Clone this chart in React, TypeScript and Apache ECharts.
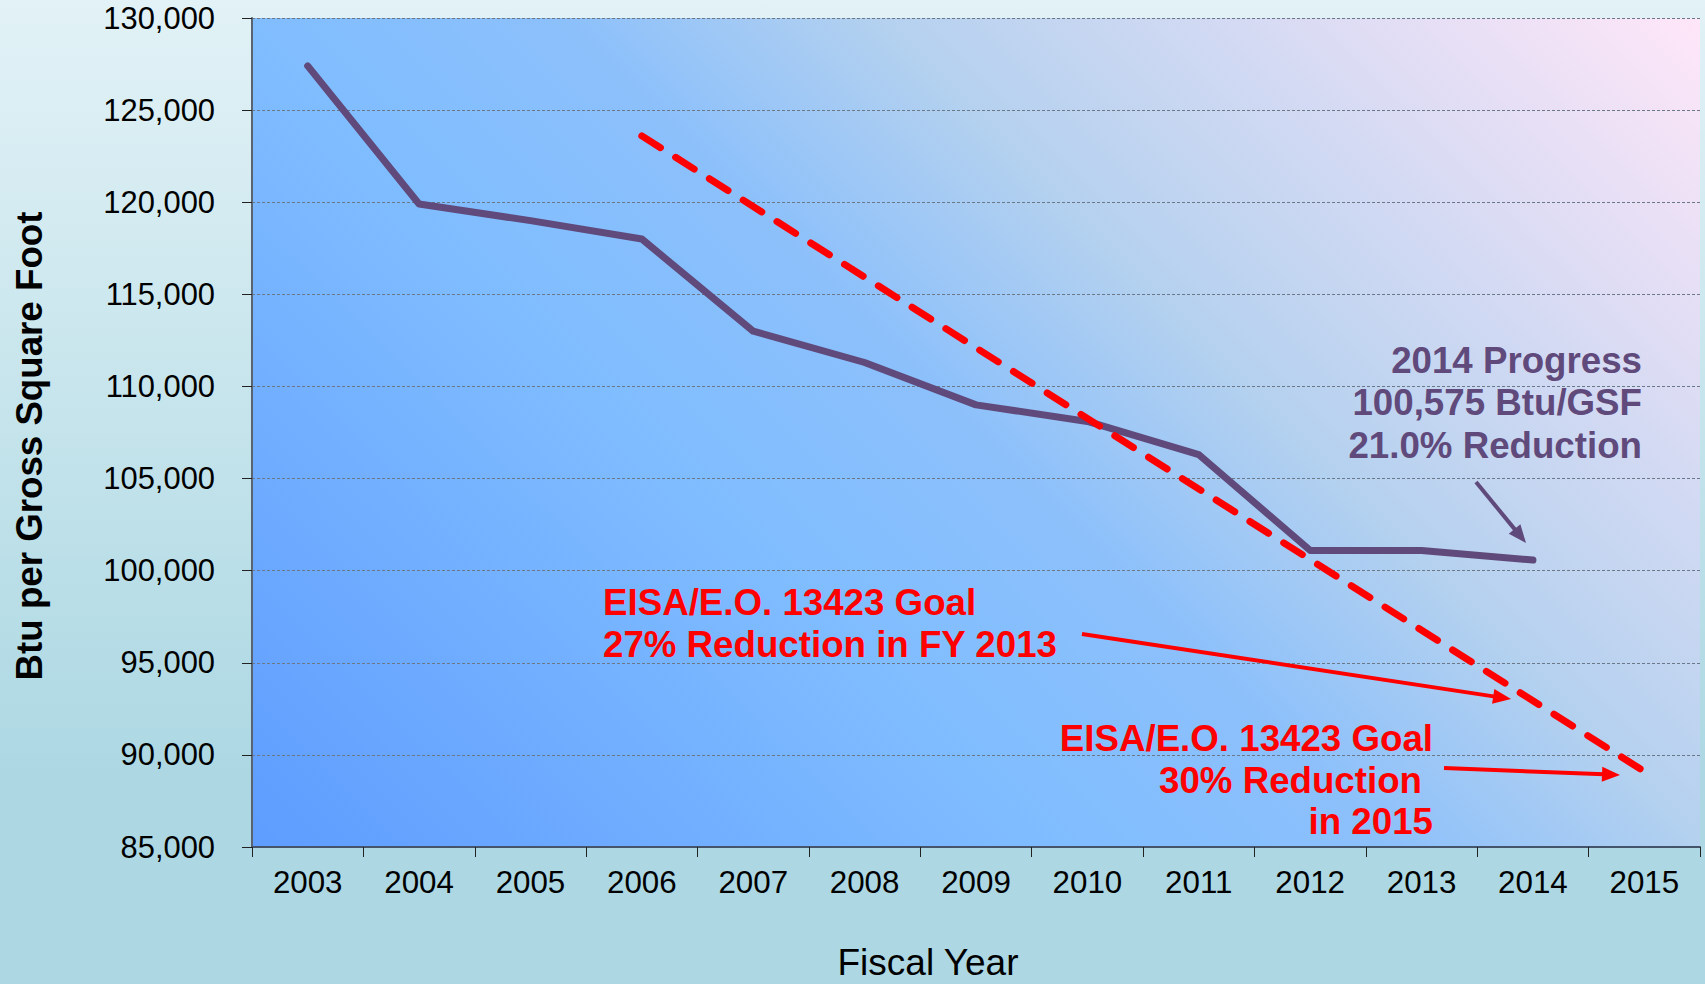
import React, { useEffect, useRef } from "react";
import * as echarts from "echarts";

const years = ["2003", "2004", "2005", "2006", "2007", "2008", "2009", "2010", "2011", "2012", "2013", "2014", "2015"];
const actualBtu = [127400, 119900, 119000, 118000, 113000, 111300, 109000, 108100, 106300, 101100, 101100, 100575, null];
const goalBtu = [null, null, null, 123600, null, null, null, null, null, null, null, null, 89100];
const yMin = 85000;
const yMax = 130000;
const yStep = 5000;

const progressLines = ["2014 Progress", "100,575 Btu/GSF", "21.0% Reduction"];
const goal2013Lines = ["EISA/E.O. 13423 Goal", "27% Reduction in FY 2013"];
const goal2015Lines = ["EISA/E.O. 13423 Goal", "30% Reduction", "in 2015"];

const FONT = "'Liberation Sans', Arial, Helvetica, sans-serif";
const PURPLE = "#5F4A7B";
const RED = "#FF0000";

function arrow(x1: number, y1: number, x2: number, y2: number, color: string, w: number) {
  const dx = x2 - x1;
  const dy = y2 - y1;
  const len = Math.sqrt(dx * dx + dy * dy);
  const ux = dx / len;
  const uy = dy / len;
  const hl = 18;
  const hw = 7.5;
  const bx = x2 - ux * hl;
  const by = y2 - uy * hl;
  return [
    {
      type: "line",
      z: 100,
      shape: { x1, y1, x2: bx + ux * 2, y2: by + uy * 2 },
      style: { stroke: color, lineWidth: w },
    },
    {
      type: "polygon",
      z: 100,
      shape: {
        points: [
          [x2, y2],
          [bx - uy * hw, by + ux * hw],
          [bx + uy * hw, by - ux * hw],
        ],
      },
      style: { fill: color },
    },
  ];
}

function textLines(lines: string[], xs: number[], ys: number[], align: string, color: string) {
  return lines.map((t, i) => ({
    type: "text",
    z: 100,
    x: xs[i],
    y: ys[i],
    style: {
      text: t,
      fill: color,
      font: `bold 36.7px ${FONT}`,
      align,
      verticalAlign: "middle",
    },
  }));
}

export default function App() {
  const ref = useRef<HTMLDivElement>(null);
  useEffect(() => {
    document.body.style.margin = "0";
    const chart = echarts.init(ref.current!, null, { renderer: "svg" });
    const option: any = {
      animation: false,
      backgroundColor: "transparent",
      grid: {
        left: 252,
        right: 5,
        top: 18,
        bottom: 137,
        show: true,
        borderWidth: 0,
        backgroundColor: {
          type: "linear",
          x: 252,
          y: 847,
          x2: 1390,
          y2: -291,
          global: true,
          colorStops: [
            { offset: 0, color: "#5E9CFF" },
            { offset: 0.36, color: "#80BDFF" },
            { offset: 0.5, color: "#8CC0FB" },
            { offset: 0.64, color: "#B4D1EF" },
            { offset: 1, color: "#FFE6F8" },
          ],
        },
      },
      xAxis: {
        type: "category",
        data: years,
        boundaryGap: true,
        axisLine: { show: true, lineStyle: { color: "#44546A", width: 2 } },
        axisTick: { show: true, length: 10, lineStyle: { color: "#222", width: 1 } },
        axisLabel: { color: "#000", fontSize: 31.3, fontFamily: FONT, margin: 20 },
        splitLine: { show: false },
      },
      yAxis: {
        type: "value",
        min: yMin,
        max: yMax,
        interval: yStep,
        axisLine: { show: true, lineStyle: { color: "#5A6470", width: 2 } },
        axisTick: { show: true, length: 10, lineStyle: { color: "#222", width: 1 } },
        axisLabel: {
          color: "#000",
          fontSize: 30.9,
          fontFamily: FONT,
          margin: 37,
          formatter: (v: number) => v.toLocaleString("en-US"),
        },
        splitLine: { show: true, lineStyle: { color: "#6A7888", width: 1, type: [3, 2] } },
      },
      series: [
        {
          type: "line",
          data: actualBtu,
          symbol: "none",
          lineStyle: { color: PURPLE, width: 7, cap: "round", join: "round" },
          z: 3,
        },
        {
          type: "line",
          data: goalBtu,
          connectNulls: true,
          symbol: "none",
          lineStyle: { color: RED, width: 7, type: [22, 18], cap: "round" },
          z: 4,
        },
      ],
      graphic: [
        {
          type: "text",
          x: 29,
          y: 446,
          rotation: Math.PI / 2,
          style: {
            text: "Btu per Gross Square Foot",
            fill: "#000",
            font: `bold 36.7px ${FONT}`,
            align: "center",
            verticalAlign: "middle",
          },
        },
        {
          type: "text",
          x: 928,
          y: 962,
          style: {
            text: "Fiscal Year",
            fill: "#000",
            font: `37px ${FONT}`,
            align: "center",
            verticalAlign: "middle",
          },
        },
        ...textLines(progressLines, [1642, 1642, 1642], [360, 402, 445], "right", PURPLE),
        ...textLines(goal2013Lines, [603, 603], [602, 644], "left", RED),
        ...textLines(goal2015Lines, [1433, 1422, 1433], [738, 780, 821], "right", RED),
        ...arrow(1476, 482, 1526, 543, PURPLE, 4),
        ...arrow(1082, 634, 1511, 699, RED, 4),
        ...arrow(1444, 768, 1620, 775, RED, 4),
      ],
    };
    chart.setOption(option);
    return () => chart.dispose();
  }, []);
  return (
    <div
      ref={ref}
      style={{
        width: 1705,
        height: 984,
        overflow: "hidden",
        background: "linear-gradient(to bottom, #E2F2F6 0%, #ADD8E3 78%, #ADD8E3 100%)",
      }}
    />
  );
}
